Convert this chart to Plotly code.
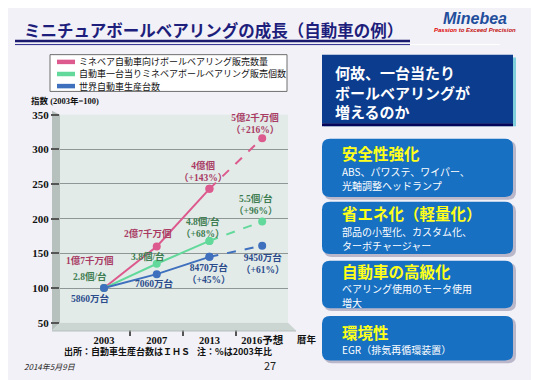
import plotly.graph_objects as go

# ---------------- data ----------------
years = ["2003", "2007", "2013", "2016予想"]
bearing_sales = [100, 160, 243, 316]      # ミネベア自動車向けボールベアリング販売数量 (index)
per_vehicle = [100, 135, 168, 196]        # 自動車一台当りミネベアボールベアリング販売個数 (index)
vehicle_prod = [100, 120, 145, 161]       # 世界自動車生産台数 (index)

sales_labels = ["1億7千万個", "2億7千万個", "4億個<br>（+143%）", "5億2千万個<br>（+216%）"]
per_labels = ["2.8個/台", "3.8個/台", "4.8個/台<br>（+68%）", "5.5個/台<br>（+96%）"]
prod_labels = ["5860万台", "7060万台", "8470万台<br>（+45%）", "9450万台<br>（+61%）"]

series_names = ["ミネベア自動車向けボールベアリング販売数量",
                "自動車一台当りミネベアボールベアリング販売個数",
                "世界自動車生産台数"]

yticks = [50, 100, 150, 200, 250, 300, 350]

# ---------------- styles ----------------
# the page body has an 8px margin, so the figure is drawn 8px smaller and
# all reference-pixel positions are shifted by that offset
OFF = 8
W, H = 539 - OFF, 380 - OFF
def px(x):
    return (x - OFF) / W
def py(y):
    return 1 - (y - OFF) / H

line_colors = ["#dc5a8d", "#62d99b", "#3e70bd"]
label_colors = ["#a83a63", "#3f7d52", "#2c4c8c"]
# label offsets (xshift, yshift) in px relative to each point
offsets = [
    [(-14, 28), (-9, 13), (-6, 17), (-7, 15)],
    [(-14, 12), (-9, 7), (-7, 13), (-7, 17)],
    [(-14, -10), (-2, -9), (-1, -17), (0, -18)],
]
SERIF = "Liberation Serif, Noto Sans CJK JP, serif"
SANS = "Noto Sans CJK JP, sans-serif"

xs = list(range(len(years)))
all_series = [bearing_sales, per_vehicle, vehicle_prod]
all_labels = [sales_labels, per_labels, prod_labels]

fig = go.Figure()
for s, vals in enumerate(all_series):
    c = line_colors[s]
    fig.add_trace(go.Scatter(x=xs[:3], y=vals[:3], mode="lines+markers",
                             line=dict(color=c, width=2),
                             marker=dict(color=c, size=8),
                             name=series_names[s], showlegend=False,
                             hoverinfo="skip"))
    fig.add_trace(go.Scatter(x=xs[2:], y=vals[2:], mode="lines+markers",
                             line=dict(color=c, width=2, dash="dash"),
                             marker=dict(color=c, size=8),
                             name=series_names[s], showlegend=False,
                             hoverinfo="skip"))

annotations = []
for s, vals in enumerate(all_series):
    for i, v in enumerate(vals):
        dx, dy = offsets[s][i]
        annotations.append(dict(x=xs[i], y=v, xref="x", yref="y", text=all_labels[s][i],
                                showarrow=False, xshift=dx, yshift=dy,
                                font=dict(family=SERIF, size=9.5, color=label_colors[s], weight="bold"),
                                xanchor="center", yanchor="middle"))

def ptext(x, y, text, size, color, anchor="left", weight="normal", family=SANS, style="normal"):
    annotations.append(dict(x=px(x), y=py(y), xref="paper", yref="paper", text=text,
                            showarrow=False, xanchor=anchor, yanchor="middle", align="left",
                            font=dict(family=family, size=size, color=color, weight=weight, style=style)))

shapes = []
def pline(x0, y0, x1, y1, color, width, layer="above"):
    shapes.append(dict(type="line", xref="paper", yref="paper", x0=px(x0), y0=py(y0),
                       x1=px(x1), y1=py(y1), line=dict(color=color, width=width), layer=layer))

def ppoly(pts, fill, layer="below"):
    d = "M " + " L ".join(f"{px(a):.5f},{py(b):.5f}" for a, b in pts) + " Z"
    shapes.append(dict(type="path", xref="paper", yref="paper", path=d, fillcolor=fill,
                       line=dict(width=0), layer=layer))

def rrect(x0, y0, x1, y1, r, fill, layer="below"):
    P = lambda a, b: f"{px(a):.5f},{py(b):.5f}"
    d = (f"M {P(x0 + r, y0)} L {P(x1 - r, y0)} Q {P(x1, y0)} {P(x1, y0 + r)} "
         f"L {P(x1, y1 - r)} Q {P(x1, y1)} {P(x1 - r, y1)} L {P(x0 + r, y1)} "
         f"Q {P(x0, y1)} {P(x0, y1 - r)} L {P(x0, y0 + r)} Q {P(x0, y0)} {P(x0 + r, y0)} Z")
    shapes.append(dict(type="path", xref="paper", yref="paper", path=d, fillcolor=fill,
                       line=dict(width=0), layer=layer))

# title & underline
ptext(22, 25, "ミニチュアボールベアリングの成長（自動車の例）", 16.5, "#1e1e7c", weight="bold")
pline(15, 35.8, 410, 35.8, "#1a1a6e", 2.5)
pline(15, 39.6, 410, 39.6, "#2a2a8a", 1)
pline(410, 39.6, 500, 39.6, "#ffffff", 1)
# logo
ptext(475, 12.5, "Minebea", 16, "#1f4e9c", anchor="center", weight="bold",
      family="Liberation Sans, Arial, sans-serif", style="italic")
ptext(475, 24.5, "<span style='color:#e00000'>Passion</span> to Exceed Precision", 6, "#c41010",
      anchor="center", weight="bold", family="Liberation Sans, Arial, sans-serif", style="italic")

# legend box (custom)
shapes.append(dict(type="rect", xref="paper", yref="paper", x0=px(50), y0=py(50), x1=px(287), y1=py(88),
                   fillcolor="white", line=dict(color="#6e6e6e", width=1), layer="above"))
for k, yy in enumerate([57.5, 70, 82.5]):
    pline(57, yy, 75, yy, line_colors[k], 4.5)
    ptext(77, yy, series_names[k], 9, "#111111")

# y-axis title & x-axis unit
ptext(29, 98, "指数 (2003年=100)", 8.5, "#111111", weight="bold", family=SERIF)
ptext(295, 344, "暦年", 9.5, "#111111", weight="bold", family=SERIF)

# 3D wall & floor
ppoly([(52, 108), (60, 112), (60, 327), (52, 335)], "#b6c1be")
ppoly([(52, 335), (60, 327), (288, 327), (296, 335)], "#cbd6d3", layer="above")
pline(52, 335.5, 296, 335.5, "#aab6b3", 1)

# footer
ptext(62, 357, "出所：自動車生産台数はＩＨＳ", 9, "#111111", weight="bold")
ptext(195, 357, "注：%は2003年比", 9, "#111111", weight="bold")
ptext(22, 372, "2014年5月9日", 8, "#222222", style="italic")
ptext(270, 371, "27", 11, "#222222", anchor="center")

# right panel boxes
shapes.append(dict(type="rect", xref="paper", yref="paper", x0=px(324), y0=py(53), x1=px(516), y1=py(124),
                   fillcolor="#7fd0dc", line=dict(width=0), layer="below"))
shapes.append(dict(type="rect", xref="paper", yref="paper", x0=px(322), y0=py(50), x1=px(513), y1=py(121),
                   fillcolor="#0b3c8e", line=dict(width=0), layer="below"))
pline(322, 122.5, 513, 122.5, "#05055a", 3)
ptext(333, 88.5, "何故、一台当たり<br>ボールベアリングが<br>増えるのか", 15, "white", weight="bold")

boxes = [
    (137, 197, "安全性強化", [("ABS、パワステ、ワイパー、", 170.5), ("光軸調整ヘッドランプ", 185)], 152),
    (202, 256, "省エネ化（軽量化）", [("部品の小型化、カスタム化、", 232.5), ("ターボチャージャー", 247)], 214),
    (263, 312, "自動車の高級化", [("ベアリング使用のモータ使用", 292), ("増大", 306.5)], 273.5),
    (320, 366, "環境性", [("EGR（排気再循環装置）", 355)], 336.5),
]
for y0, y1, title, lines, ty in boxes:
    rrect(324, y0 + 2, 516, y1 + 3, 8, "#b9b7c9")
    rrect(322, y0, 513, y1, 8, "#1870c2")
    ptext(340, ty, title, 15.5, "#ffff1a", weight="bold")
    for t, yy in lines:
        ptext(340, yy, t, 10, "white")

fig.update_layout(
    width=W, height=H,
    margin=dict(l=0, r=0, t=0, b=0),
    paper_bgcolor="#f2f1f7",
    plot_bgcolor="#e3ebe9",
    showlegend=False,
    annotations=annotations,
    shapes=shapes,
    xaxis=dict(domain=[px(60), px(288)], range=[-0.835, 3.49],
               tickmode="array", tickvals=xs, ticktext=years,
               showgrid=False, zeroline=False, showline=False, ticks="",
               ticklabelstandoff=10,
               tickfont=dict(family=SERIF, size=10.5, color="#111111", weight="bold"),
               minor=dict(tickmode="array", tickvals=[0.5, 1.5, 2.5], ticks="outside",
                          ticklen=12, tickwidth=2, tickcolor="#555555", showgrid=False)),
    yaxis=dict(domain=[py(327), py(112)], range=[50, 350],
               tickmode="array", tickvals=yticks,
               showgrid=True, gridcolor="#8e9795", gridwidth=1,
               zeroline=False, showline=False,
               ticks="outside", ticklen=8, tickwidth=2, tickcolor="#555555",
               tickfont=dict(family=SERIF, size=11, color="#111111", weight="bold")),
)

fig.write_html("out.html")
